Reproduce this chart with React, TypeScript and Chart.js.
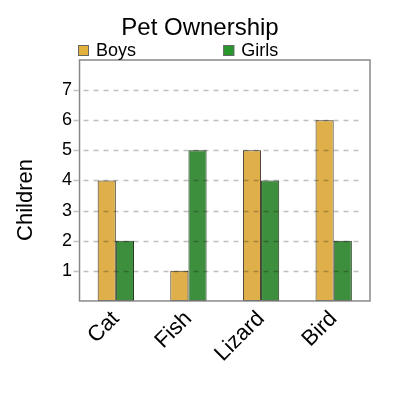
import { useEffect, useRef } from 'react'
import { Chart, registerables } from 'chart.js'

Chart.register(...registerables)

const categories = ['Cat', 'Fish', 'Lizard', 'Bird']
const boys = [4, 1, 5, 6]
const girls = [2, 5, 4, 2]
const seriesNames = ['Boys', 'Girls']
const legendColors = ['#E1B13B', '#26992A']
const chartTitle = 'Pet Ownership'
const yTitle = 'Children'

const FONT = "'Liberation Sans', Arial, sans-serif"

// dashed grid over the bars, boxed plot area, titles and a two-column legend
const framePlugin = {
  id: 'frame',
  afterDatasetsDraw(chart: any) {
    const { ctx, chartArea } = chart
    const y = chart.scales.y
    ctx.save()
    ctx.strokeStyle = 'rgba(0,0,0,0.25)'
    ctx.lineWidth = 1.5
    ctx.setLineDash([5, 5])
    y.ticks.forEach((t: any) => {
      if (t.value <= 0 || t.value >= 8) return
      const py = Math.round(y.getPixelForValue(t.value)) + 0.5
      ctx.beginPath()
      ctx.moveTo(chartArea.left - 6, py)
      ctx.lineTo(chartArea.right - 10, py)
      ctx.stroke()
    })
    ctx.setLineDash([])
    ctx.strokeStyle = '#888'
    ctx.lineWidth = 1.5
    ctx.strokeRect(chartArea.left, chartArea.top, chartArea.right - chartArea.left, chartArea.bottom - chartArea.top)

    ctx.fillStyle = '#000'
    ctx.font = `24px ${FONT}`
    ctx.textAlign = 'center'
    ctx.textBaseline = 'alphabetic'
    ctx.fillText(chartTitle, 200, 35)

    const half = (chartArea.right - chartArea.left) / 2
    ctx.font = `18px ${FONT}`
    ctx.textAlign = 'left'
    ctx.textBaseline = 'middle'
    seriesNames.forEach((name, i) => {
      const bx = chartArea.left - 1.5 + i * half
      const by = 45
      ctx.fillStyle = legendColors[i]
      ctx.fillRect(bx, by, 11, 11)
      ctx.strokeStyle = '#666'
      ctx.lineWidth = 1
      ctx.strokeRect(bx + 0.5, by + 0.5, 10, 10)
      ctx.fillStyle = '#000'
      ctx.fillText(name, bx + 18, by + 6)
    })

    ctx.translate(26, 200)
    ctx.rotate(-Math.PI / 2)
    ctx.font = `22px ${FONT}`
    ctx.textAlign = 'center'
    ctx.fillText(yTitle, 0, 0)
    ctx.restore()
  },
}

const PetChart = () => {
  const canvasRef = useRef<HTMLCanvasElement>(null)

  useEffect(() => {
    const chart = new Chart(canvasRef.current!, {
      type: 'bar',
      data: {
        labels: categories,
        datasets: [
          {
            label: seriesNames[0],
            data: boys,
            backgroundColor: '#DFB04A',
            borderColor: '#3a3226',
            borderWidth: 1,
            borderSkipped: false,
            barPercentage: 1,
            categoryPercentage: 0.5,
          },
          {
            label: seriesNames[1],
            data: girls,
            backgroundColor: '#3D8F3D',
            borderColor: '#23361f',
            borderWidth: 1,
            borderSkipped: false,
            barPercentage: 1,
            categoryPercentage: 0.5,
          },
        ],
      },
      options: {
        responsive: false,
        animation: false,
        layout: { padding: { top: 60, left: 54.5, right: 30, bottom: 28 } },
        plugins: {
          legend: { display: false },
          tooltip: { enabled: false },
          title: { display: false },
        },
        scales: {
          x: {
            grid: { display: false, drawTicks: false },
            border: { display: false },
            ticks: {
              color: '#000',
              font: { family: FONT, size: 22 },
              minRotation: 45,
              maxRotation: 45,
              padding: 5,
            },
          },
          y: {
            min: 0,
            max: 8,
            grid: { display: false, drawTicks: false },
            border: { display: false },
            ticks: {
              stepSize: 1,
              color: '#000',
              font: { family: FONT, size: 18 },
              padding: 7.5,
              callback: (v: any) => (v > 0 && v < 8 ? String(v) : ''),
            },
          },
        },
      },
      plugins: [framePlugin],
    })

    return () => chart.destroy()
  }, [])

  return <canvas ref={canvasRef} width={400} height={400}></canvas>
}

export default function App() {
  return (
    <div style={{ position: 'absolute', left: 0, top: 0, width: 400, height: 400, background: '#fff' }}>
      <PetChart />
    </div>
  )
}
